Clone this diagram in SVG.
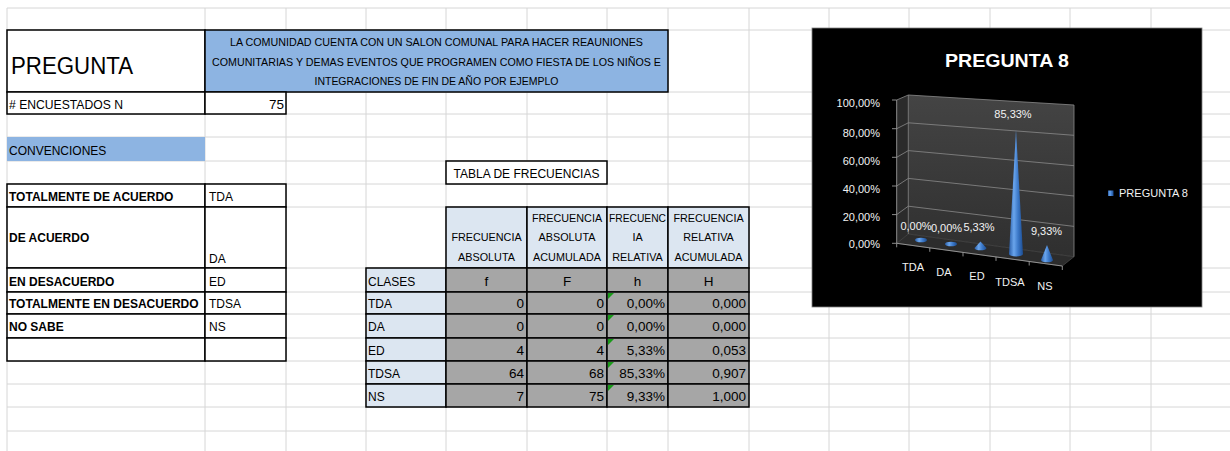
<svg xmlns="http://www.w3.org/2000/svg" width="1230" height="451" viewBox="0 0 1230 451">
<style>
text{font-family:"Liberation Sans",Arial,sans-serif;fill:#000}
.g{stroke:#d6d6d6;stroke-width:1}
.b{stroke:#000;stroke-width:1.5}
.t{font-size:12px}
.n{font-size:13.5px}
.bd{font-size:12px;font-weight:bold}
.hd{font-size:10.8px;text-anchor:middle}
.r{text-anchor:end}
.m{text-anchor:middle}
.q{font-size:11px;text-anchor:middle}
.c{fill:#f2f2f2;font-size:11px}
.gl{stroke:#8a8a8a;stroke-width:0.8;fill:none}
</style>
<defs>
<linearGradient id="cone" x1="0" y1="0" x2="1" y2="0">
<stop offset="0" stop-color="#2a5ea8"/>
<stop offset="0.35" stop-color="#6aa5ec"/>
<stop offset="0.65" stop-color="#3b78c8"/>
<stop offset="1" stop-color="#1d4d91"/>
</linearGradient>
<linearGradient id="wall" x1="0" y1="0" x2="0" y2="1">
<stop offset="0" stop-color="#444"/>
<stop offset="1" stop-color="#2f2f2f"/>
</linearGradient>
</defs>
<rect width="1230" height="451" fill="#fff"/>
<g id="grid">
<path class="g" d="M7 8H1230M7 30H1230M7 92H1230M7 114H1230M7 137H1230M7 161H1230M7 184H1230M7 207H1230M7 268H1230M7 292H1230M7 314H1230M7 338H1230M7 361H1230M7 384H1230M7 407H1230M7 431H1230"/>
<path class="g" d="M7 8V451M205 8V451M286 8V451M366 8V451M446 8V451M527 8V451M607 8V451M668 8V451M749 8V451M829 8V451M909 8V451M990 8V451M1070 8V451M1151 8V451"/>
</g>
<g id="pregunta">
<rect x="7" y="30" width="198" height="62" fill="#fff" class="b"/>
<text x="11" y="74" font-size="23" textLength="122" lengthAdjust="spacingAndGlyphs">PREGUNTA</text>
</g>
<g id="question">
<rect x="205" y="30" width="463" height="62" fill="#8db4e2" class="b"/>
<text class="q" x="436.5" y="46" textLength="413" lengthAdjust="spacingAndGlyphs">LA COMUNIDAD CUENTA CON UN SALON COMUNAL PARA HACER REAUNIONES</text>
<text class="q" x="436.5" y="66" textLength="449" lengthAdjust="spacingAndGlyphs">COMUNITARIAS Y DEMAS EVENTOS QUE PROGRAMEN COMO FIESTA DE LOS NIÑOS E</text>
<text class="q" x="436.5" y="85" textLength="244" lengthAdjust="spacingAndGlyphs">INTEGRACIONES DE FIN DE AÑO POR EJEMPLO</text>
</g>
<g id="encuestados">
<rect x="7" y="92" width="198" height="22" fill="#fff" class="b"/>
<rect x="205" y="92" width="81" height="22" fill="#fff" class="b"/>
<text class="t" x="9" y="109" textLength="114" lengthAdjust="spacingAndGlyphs">#  ENCUESTADOS  N</text>
<text class="n r" x="284" y="109">75</text>
</g>
<g id="convenciones-title">
<rect x="7" y="137" width="198" height="24" fill="#8db4e2"/>
<text class="t" x="9" y="155">CONVENCIONES</text>
</g>
<g id="convenciones">
<rect x="7" y="184" width="198" height="23" fill="#fff" class="b"/>
<rect x="205" y="184" width="81" height="23" fill="#fff" class="b"/>
<rect x="7" y="207" width="198" height="61" fill="#fff" class="b"/>
<rect x="205" y="207" width="81" height="61" fill="#fff" class="b"/>
<rect x="7" y="268" width="198" height="24" fill="#fff" class="b"/>
<rect x="205" y="268" width="81" height="24" fill="#fff" class="b"/>
<rect x="7" y="292" width="198" height="22" fill="#fff" class="b"/>
<rect x="205" y="292" width="81" height="22" fill="#fff" class="b"/>
<rect x="7" y="314" width="198" height="24" fill="#fff" class="b"/>
<rect x="205" y="314" width="81" height="24" fill="#fff" class="b"/>
<rect x="7" y="338" width="198" height="23" fill="#fff" class="b"/>
<rect x="205" y="338" width="81" height="23" fill="#fff" class="b"/>
<text class="bd" x="9" y="201">TOTALMENTE DE ACUERDO</text>
<text class="bd" x="9" y="242">DE ACUERDO</text>
<text class="bd" x="9" y="286">EN DESACUERDO</text>
<text class="bd" x="9" y="308">TOTALMENTE EN DESACUERDO</text>
<text class="bd" x="9" y="331">NO SABE</text>
<text class="t" x="209" y="201">TDA</text>
<text class="t" x="209" y="263">DA</text>
<text class="t" x="209" y="286">ED</text>
<text class="t" x="209" y="308">TDSA</text>
<text class="t" x="209" y="331">NS</text>
</g>
<g id="tabla-titulo">
<rect x="446" y="161" width="161" height="23" fill="#fff" class="b"/>
<text class="t m" x="526.5" y="178">TABLA DE FRECUENCIAS</text>
</g>
<g id="tabla">
<g fill="#dce6f1" class="b">
<rect x="446" y="207" width="81" height="61"/>
<rect x="527" y="207" width="80" height="61"/>
<rect x="607" y="207" width="61" height="61"/>
<rect x="668" y="207" width="81" height="61"/>
<rect x="366" y="268" width="80" height="24"/>
<rect x="366" y="292" width="80" height="22"/>
<rect x="366" y="314" width="80" height="24"/>
<rect x="366" y="338" width="80" height="23"/>
<rect x="366" y="361" width="80" height="23"/>
<rect x="366" y="384" width="80" height="23"/>
</g>
<g fill="#a6a6a6" class="b">
<rect x="446" y="268" width="81" height="24"/><rect x="527" y="268" width="80" height="24"/><rect x="607" y="268" width="61" height="24"/><rect x="668" y="268" width="81" height="24"/>
<rect x="446" y="292" width="81" height="22"/><rect x="527" y="292" width="80" height="22"/><rect x="607" y="292" width="61" height="22"/><rect x="668" y="292" width="81" height="22"/>
<rect x="446" y="314" width="81" height="24"/><rect x="527" y="314" width="80" height="24"/><rect x="607" y="314" width="61" height="24"/><rect x="668" y="314" width="81" height="24"/>
<rect x="446" y="338" width="81" height="23"/><rect x="527" y="338" width="80" height="23"/><rect x="607" y="338" width="61" height="23"/><rect x="668" y="338" width="81" height="23"/>
<rect x="446" y="361" width="81" height="23"/><rect x="527" y="361" width="80" height="23"/><rect x="607" y="361" width="61" height="23"/><rect x="668" y="361" width="81" height="23"/>
<rect x="446" y="384" width="81" height="23"/><rect x="527" y="384" width="80" height="23"/><rect x="607" y="384" width="61" height="23"/><rect x="668" y="384" width="81" height="23"/>
</g>
<g fill="#1a9a1a">
<polygon points="608,293 614,293 608,299"/>
<polygon points="608,315 614,315 608,321"/>
<polygon points="608,339 614,339 608,345"/>
<polygon points="608,362 614,362 608,368"/>
<polygon points="608,385 614,385 608,391"/>
</g>
<text class="hd" x="486.5" y="241">FRECUENCIA</text>
<text class="hd" x="486.5" y="261">ABSOLUTA</text>
<text class="hd" x="567" y="222">FRECUENCIA</text>
<text class="hd" x="567" y="241">ABSOLUTA</text>
<text class="hd" x="567" y="261">ACUMULADA</text>
<text class="hd" x="637.5" y="222" textLength="57" lengthAdjust="spacingAndGlyphs">FRECUENC</text>
<text class="hd" x="637.5" y="241">IA</text>
<text class="hd" x="637.5" y="261">RELATIVA</text>
<text class="hd" x="708.5" y="222">FRECUENCIA</text>
<text class="hd" x="708.5" y="241">RELATIVA</text>
<text class="hd" x="708.5" y="261">ACUMULADA</text>
<text class="t" x="368" y="286">CLASES</text>
<text class="t" x="368" y="308">TDA</text>
<text class="t" x="368" y="331">DA</text>
<text class="t" x="368" y="355">ED</text>
<text class="t" x="368" y="378">TDSA</text>
<text class="t" x="368" y="401">NS</text>
<text class="n m" x="486.5" y="286">f</text>
<text class="n m" x="567" y="286">F</text>
<text class="n m" x="637.5" y="286">h</text>
<text class="n m" x="708.5" y="286">H</text>
<g class="n r">
<text x="524" y="308">0</text><text x="604" y="308">0</text><text x="665" y="308">0,00%</text><text x="746" y="308">0,000</text>
<text x="524" y="331">0</text><text x="604" y="331">0</text><text x="665" y="331">0,00%</text><text x="746" y="331">0,000</text>
<text x="524" y="355">4</text><text x="604" y="355">4</text><text x="665" y="355">5,33%</text><text x="746" y="355">0,053</text>
<text x="524" y="378">64</text><text x="604" y="378">68</text><text x="665" y="378">85,33%</text><text x="746" y="378">0,907</text>
<text x="524" y="401">7</text><text x="604" y="401">75</text><text x="665" y="401">9,33%</text><text x="746" y="401">1,000</text>
</g>
</g>
<g id="chart">
<rect x="812" y="28" width="390" height="279" fill="#000" stroke="#808080" stroke-width="0.8"/>
<text x="1007" y="67" font-size="19" font-weight="bold" text-anchor="middle" style="fill:#fff" textLength="124" lengthAdjust="spacingAndGlyphs">PREGUNTA 8</text>
<polygon points="896.7,100 908.3,95 908.3,234 896.7,243.3" fill="#2b2b2b"/>
<polygon points="908.3,95 1074,105 1074,256.7 908.3,234" fill="url(#wall)"/>
<polygon points="896.7,243.3 908.3,234 1074,256.7 1062.3,266" fill="#2c2c2c" stroke="#555" stroke-width="0.6"/>
<path class="gl" d="M896.7 100L908.3 95L1074 105M896.7 128.7L908.3 122.8L1074 135.3M896.7 157.3L908.3 150.6L1074 165.7M896.7 186L908.3 178.4L1074 196M896.7 214.6L908.3 206.2L1074 226.4M908.3 95V234M1074 105V256.7"/>
<path stroke="#9a9a9a" stroke-width="0.9" fill="none" d="M896.7 100V243.3M892 100H896.7M892 128.7H896.7M892 157.3H896.7M892 186H896.7M892 214.6H896.7M892 243.3H896.7M896.7 243.3L1062.3 266M896.7 243.3v4M929.8 247.8v4M963 252.4v4M996 256.9v4M1029.2 261.5v4M1062.3 266v4"/>
<g class="c r">
<text x="880" y="107" style="fill:#f2f2f2">100,00%</text>
<text x="880" y="136.5" style="fill:#f2f2f2">80,00%</text>
<text x="880" y="165" style="fill:#f2f2f2">60,00%</text>
<text x="880" y="193" style="fill:#f2f2f2">40,00%</text>
<text x="880" y="221" style="fill:#f2f2f2">20,00%</text>
<text x="880" y="248" style="fill:#f2f2f2">0,00%</text>
</g>
<ellipse cx="921" cy="240" rx="6" ry="2.3" fill="url(#cone)"/>
<ellipse cx="951" cy="244" rx="6" ry="2.3" fill="url(#cone)"/>
<path d="M974.5 248L980.5 241.5L986.5 248A6 2.3 0 0 1 974.5 248Z" fill="url(#cone)"/>
<path d="M1009 254L1016 130L1023 254A7 2.6 0 0 1 1009 254Z" fill="url(#cone)"/>
<path d="M1041 260L1047 245L1053 260A6 2.3 0 0 1 1041 260Z" fill="url(#cone)"/>
<g class="c m">
<text x="916" y="230" style="fill:#f2f2f2">0,00%</text>
<text x="946.5" y="232" style="fill:#f2f2f2">0,00%</text>
<text x="979" y="231" style="fill:#f2f2f2">5,33%</text>
<text x="1013" y="118" style="fill:#f2f2f2">85,33%</text>
<text x="1046.5" y="235" style="fill:#f2f2f2">9,33%</text>
<text x="913" y="271" style="fill:#f2f2f2">TDA</text>
<text x="944" y="276" style="fill:#f2f2f2">DA</text>
<text x="977" y="280" style="fill:#f2f2f2">ED</text>
<text x="1010" y="286" style="fill:#f2f2f2">TDSA</text>
<text x="1045" y="290" style="fill:#f2f2f2">NS</text>
</g>
<rect x="1108" y="190.5" width="5.5" height="5.5" fill="url(#cone)"/>
<text class="c" x="1119" y="197" style="fill:#f2f2f2" textLength="69" lengthAdjust="spacingAndGlyphs">PREGUNTA 8</text>
</g>
</svg>
